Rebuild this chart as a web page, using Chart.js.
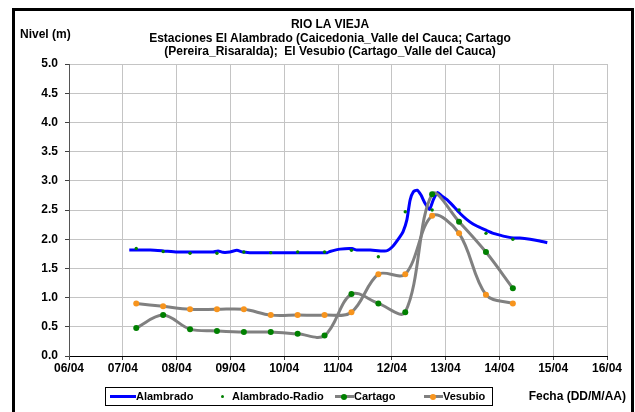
<!DOCTYPE html>
<html>
<head>
<meta charset="utf-8">
<script src="https://cdn.jsdelivr.net/npm/chart.js@4/dist/chart.umd.min.js"></script>
<style>
  html, body { margin: 0; padding: 0; background: #fff; }
  #wrap { position: relative; width: 635px; height: 412px; overflow: hidden;
          font-family: "Liberation Sans", Arial, sans-serif; font-weight: bold; font-size: 12px; color: #000; }
  #chart { position: absolute; left: 0; top: 0; }
  #frame { position: absolute; left: 12px; top: 8px; width: 616px; height: 420px;
           border: 3px solid #000; pointer-events: none; }
  .txt { position: absolute; white-space: nowrap; line-height: 13px; }
  #title { left: 0; width: 660px; top: 18px; text-align: center; line-height: 13.5px; }
  #legend { position: absolute; left: 105px; top: 387px; width: 388px; height: 19px;
            border: 1px solid #000; box-sizing: border-box; font-size: 11px; }
  .sw { position: absolute; height: 3px; }
  .dot { position: absolute; border-radius: 50%; }
</style>
</head>
<body>
<div id="wrap">
  <canvas id="chart" width="635" height="412"></canvas>
  <div id="title" class="txt">RIO LA VIEJA<br>Estaciones El Alambrado (Caicedonia_Valle del Cauca; Cartago<br>(Pereira_Risaralda);&nbsp; El Vesubio (Cartago_Valle del Cauca)</div>
  <div class="txt" style="left:20px; top:28px;">Nivel (m)</div>
  <div class="txt" style="right:9px; top:390px;">Fecha (DD/M/AA)</div>
  <div id="legend">
    <div class="sw" style="left:4px; top:7px; width:26px; background:#0000ff;"></div>
    <div class="txt" style="left:30px; top:2px;">Alambrado</div>
    <div class="dot" style="left:115px; top:7px; width:3px; height:3px; background:#008000;"></div>
    <div class="txt" style="left:126px; top:2px;">Alambrado-Radio</div>
    <div class="sw" style="left:229px; top:7px; width:19px; background:#808080;"></div>
    <div class="dot" style="left:235px; top:5.5px; width:6px; height:6px; background:#008000;"></div>
    <div class="txt" style="left:248px; top:2px;">Cartago</div>
    <div class="sw" style="left:318px; top:7px; width:19px; background:#808080;"></div>
    <div class="dot" style="left:324px; top:5.5px; width:6px; height:6px; background:#f7941d;"></div>
    <div class="txt" style="left:337px; top:2px;">Vesubio</div>
  </div>
  <div id="frame"></div>
</div>
<script>
// Río La Vieja water levels, April (x = day of month, decimal hours)

// Alambrado: continuous gauge record
const alambradoDays = [
  7.12, 7.51, 7.75, 8.01, 8.43, 8.68, 8.77, 8.86, 8.99, 9.12, 9.23, 9.36, 9.49, 9.92,
  10.29, 10.57, 10.80, 10.85, 11.04, 11.26, 11.35, 11.60, 11.90, 12.02, 12.15, 12.21,
  12.28, 12.34, 12.40, 12.47, 12.54, 12.62, 12.70, 12.77, 12.85, 12.93, 13.02, 13.14,
  13.27, 13.39, 13.51, 13.64, 13.76, 13.89, 14.01, 14.14, 14.26, 14.38, 14.57, 14.75, 14.89
];
const alambradoLevels = [
  1.815, 1.815, 1.80, 1.78, 1.78, 1.78, 1.80, 1.775, 1.78, 1.81, 1.78, 1.77, 1.77, 1.77,
  1.77, 1.77, 1.77, 1.79, 1.83, 1.84, 1.815, 1.815, 1.80, 1.88, 2.04, 2.13,
  2.33, 2.67, 2.81, 2.84, 2.76, 2.61, 2.51, 2.67, 2.80, 2.74, 2.68, 2.57,
  2.44, 2.34, 2.26, 2.20, 2.15, 2.10, 2.07, 2.04, 2.02, 2.02, 2.00, 1.97, 1.94
];

// Twice-daily readings (06:00 and 18:00)
const readingDays = [7.25, 7.75, 8.25, 8.75, 9.25, 9.75, 10.25, 10.75, 11.25, 11.75, 12.25, 12.75, 13.25, 13.75, 14.25];
const radioLevels   = [1.84, 1.79, 1.76, 1.76, 1.78, 1.77, 1.78, 1.78, 1.81, 1.70, 2.47, 2.50, 2.50, 2.10, 2.00];
const cartagoLevels = [0.48, 0.70, 0.46, 0.43, 0.41, 0.41, 0.38, 0.35, 1.06, 0.90, 0.75, 2.77, 2.30, 1.78, 1.16];
const vesubioLevels = [0.90, 0.85, 0.80, 0.80, 0.80, 0.70, 0.70, 0.70, 0.75, 1.40, 1.40, 2.40, 2.10, 1.05, 0.90];

// Axis ticks
const dayTicks = [6, 7, 8, 9, 10, 11, 12, 13, 14, 15, 16];
const levelTicks = [0, 0.5, 1, 1.5, 2, 2.5, 3, 3.5, 4, 4.5, 5];

const pts = (xs, ys) => xs.map((x, i) => ({ x: x, y: ys[i] }));
const dayLabel = d => String(d).padStart(2, '0') + '/04';
const tickFont = { family: '"Liberation Sans", Arial, sans-serif', size: 12, weight: 'bold' };

new Chart(document.getElementById('chart'), {
  type: 'line',
  data: {
    datasets: [
      { label: 'Alambrado', data: pts(alambradoDays, alambradoLevels), order: 3,
        borderColor: '#0000ff', borderWidth: 3, pointRadius: 0, tension: 0.2 },
      { label: 'Alambrado-Radio', data: pts(readingDays, radioLevels), order: 0,
        showLine: false, pointRadius: 1.7, pointBorderWidth: 0, pointBackgroundColor: '#008000' },
      { label: 'Cartago', data: pts(readingDays, cartagoLevels), order: 2,
        borderColor: '#808080', borderWidth: 3, tension: 0.35,
        pointRadius: 3, pointBorderWidth: 0, pointBackgroundColor: '#008000' },
      { label: 'Vesubio', data: pts(readingDays, vesubioLevels), order: 1,
        borderColor: '#808080', borderWidth: 3, tension: 0.35,
        pointRadius: 3, pointBorderWidth: 0, pointBackgroundColor: '#f7941d' }
    ]
  },
  options: {
    responsive: false,
    animation: false,
    events: [],
    layout: { padding: { left: 0, top: 64, right: 28, bottom: 32 } },
    plugins: { legend: { display: false }, title: { display: false }, tooltip: { enabled: false } },
    scales: {
      x: {
        type: 'linear', min: 6, max: 16,
        afterBuildTicks: s => { s.ticks = dayTicks.map(v => ({ value: v })); },
        afterFit: s => { s.height = 24; },
        grid: { color: '#c4c4c4', lineWidth: 1, tickLength: 4, tickColor: '#404040' },
        border: { color: '#000', width: 1 },
        ticks: { font: tickFont, color: '#000', padding: 1, maxRotation: 0, callback: v => dayLabel(v) }
      },
      y: {
        min: 0, max: 5,
        afterBuildTicks: s => { s.ticks = levelTicks.map(v => ({ value: v })); },
        afterFit: s => { s.width = 69; },
        grid: { color: '#c4c4c4', lineWidth: 1, tickLength: 4, tickColor: '#404040' },
        border: { color: '#555', width: 1 },
        ticks: { font: tickFont, color: '#000', padding: 7, callback: v => v.toFixed(1) }
      }
    }
  }
});
</script>
</body>
</html>
